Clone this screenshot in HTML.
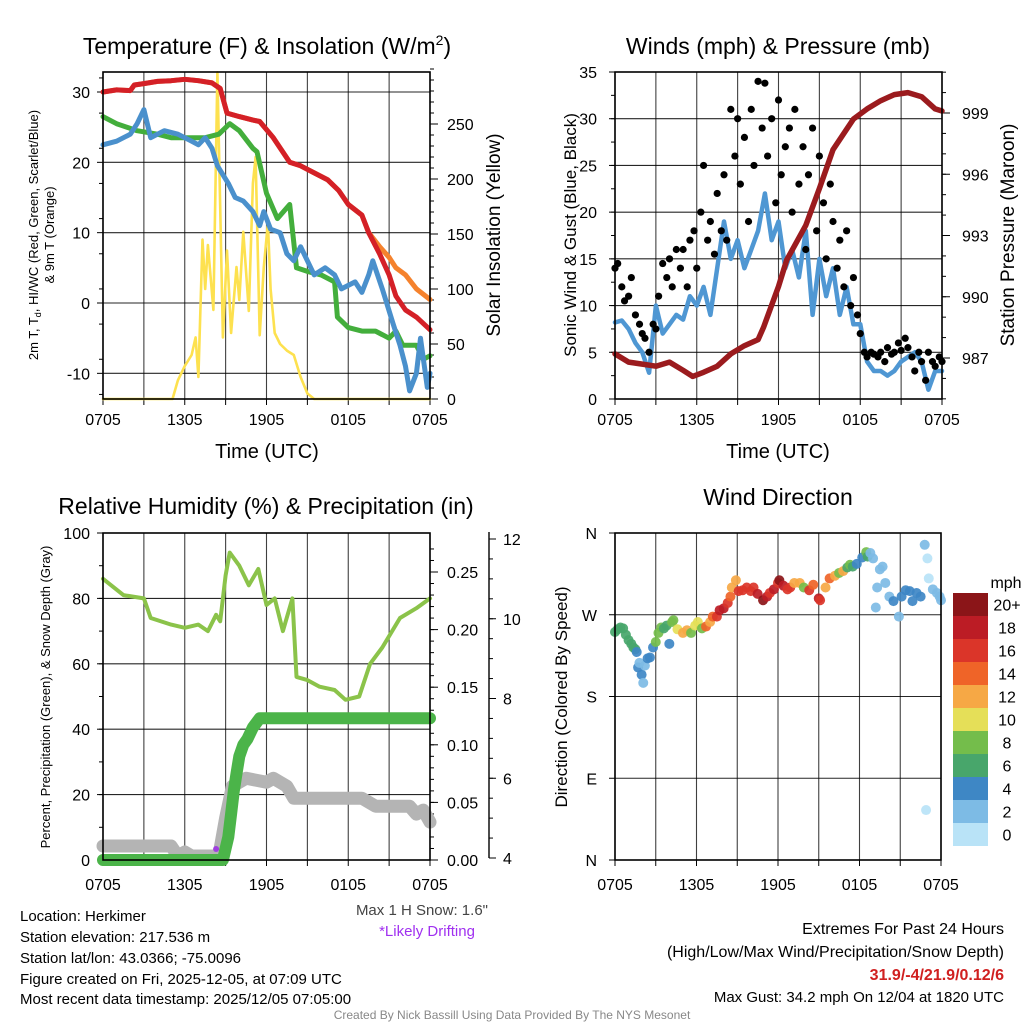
<!DOCTYPE html>
<html><head><meta charset="utf-8"><style>
html,body{margin:0;padding:0;background:#fff;}
svg{display:block;font-family:"Liberation Sans",sans-serif;}
</style></head><body>
<svg id="root" xmlns="http://www.w3.org/2000/svg" width="1024" height="1024" viewBox="0 0 1024 1024">
<rect x="0" y="0" width="1024" height="1024" fill="#fff"/>
<text x="267" y="54" font-size="23" text-anchor="middle">Temperature (F) &amp; Insolation (W/m<tspan dy="-9" font-size="14">2</tspan><tspan dy="9">)</tspan></text>
<text x="778" y="54" font-size="23" text-anchor="middle">Winds (mph) &amp; Pressure (mb)</text>
<text x="266" y="514" font-size="23" text-anchor="middle">Relative Humidity (%) &amp; Precipitation (in)</text>
<text x="778" y="505" font-size="23" text-anchor="middle">Wind Direction</text>
<text transform="translate(38,235) rotate(-90)" font-size="13" text-anchor="middle">2m T, T<tspan dy="3" font-size="9">d</tspan><tspan dy="-3">, HI/WC (Red, Green, Scarlet/Blue)</tspan></text>
<text transform="translate(54,235) rotate(-90)" font-size="13" text-anchor="middle">&amp; 9m T (Orange)</text>
<text transform="translate(500,235) rotate(-90)" font-size="19" text-anchor="middle">Solar Insolation (Yellow)</text>
<text transform="translate(576,235) rotate(-90)" font-size="17" text-anchor="middle">Sonic Wind &amp; Gust (Blue, Black)</text>
<text transform="translate(1014,235) rotate(-90)" font-size="19" text-anchor="middle">Station Pressure (Maroon)</text>
<text transform="translate(50,697) rotate(-90)" font-size="13" text-anchor="middle">Percent, Precipitation (Green), &amp; Snow Depth (Gray)</text>
<text transform="translate(567,697) rotate(-90)" font-size="17" text-anchor="middle">Direction (Colored By Speed)</text>
<text x="267" y="458" font-size="20" text-anchor="middle">Time (UTC)</text>
<text x="778" y="458" font-size="20" text-anchor="middle">Time (UTC)</text>
<g font-size="15">
<text x="20" y="921">Location: Herkimer</text>
<text x="20" y="942">Station elevation: 217.536 m</text>
<text x="20" y="963">Station lat/lon: 43.0366; -75.0096</text>
<text x="20" y="984">Figure created on Fri, 2025-12-05, at 07:09 UTC</text>
<text x="20" y="1004">Most recent data timestamp: 2025/12/05 07:05:00</text>
</g>
<text x="488" y="915" font-size="15" fill="#444" text-anchor="end">Max 1 H Snow: 1.6"</text>
<text x="427" y="936" font-size="15" fill="#a030f0" text-anchor="middle">*Likely Drifting</text>
<g font-size="16" text-anchor="end">
<text x="1004" y="934">Extremes For Past 24 Hours</text>
<text x="1004" y="957">(High/Low/Max Wind/Precipitation/Snow Depth)</text>
<text x="1004" y="980" fill="#d02020" font-weight="bold">31.9/-4/21.9/0.12/6</text>
<text x="1004" y="1002" font-size="15">Max Gust: 34.2 mph On 12/04 at 1820 UTC</text>
</g>
<text x="512" y="1019" font-size="12" fill="#888" text-anchor="middle">Created By Nick Bassill Using Data Provided By The NYS Mesonet</text>
</svg>
<script>
// ---------- data ----------
const timeLabels = ["0705","1305","1905","0105","0705"];
const tempTimes = [0,1,2,2.3,3,4,5,6,7,8,8.6,9.1,10,11,11.5,12.5,13.7,14.5,15.5,16.5,17.3,18,19,19.5,20.3,21,21.5,22.2,23,24];
const tempRed = [30,30.3,30.2,31,31.2,31.5,31.6,31.8,31.6,31.3,30.5,27,26.5,26,25.8,23.5,20,19.5,18.5,17.5,16,14,12.5,10,7,4,1,-1,-2,-3.8];
const tempOrange = [30,30.3,30.2,31,31.2,31.5,31.6,31.8,31.6,31.3,30.5,27,26.5,26,25.8,23.5,20,19.5,18.5,17.5,16,14,12.5,10,8,6.5,5,4,2,0.5];
const greenTimes = [0,1,2.5,4,5,6.5,7.5,8.5,9.3,10,11,11.3,12,12.8,13.7,14.2,15,16,17,17.2,18,19,20,21,21.5,22,23,23.5,24];
const tempGreen = [26.5,25.5,24.5,24,23.5,23.5,23.5,24,25.5,24.5,22,21.5,15.6,12,14,5,4.5,4,3,-2,-3.5,-4,-4,-5,-4,-6,-6,-8,-7.5];
const blueTimes = [0,1,2,2.5,3,3.5,4.5,5.5,6.5,7,7.5,8,8.4,9.2,9.7,10.3,11,11.5,11.8,12.3,13,13.5,14,14.5,15,15.5,16.3,17,17.5,18.5,19,19.5,19.8,20.5,21.3,21.8,22.2,22.5,23,23.3,23.8,24];
const tempBlue = [22.5,23,24,25.5,27.5,23.5,24.5,24,23,22.5,23.5,22,19.5,17,15,14.5,13,11,13,10.5,10,7,6,8,6,4,5,4,2,3,1.5,4,6,2,-3,-6,-9,-12.5,-10,-5,-12,-10];
const solarTimes = [0,5.1,5.5,6,6.5,6.8,7,7.3,7.5,7.7,8.1,8.4,8.8,9.1,9.4,9.8,10,10.3,10.7,11,11.2,11.5,11.8,12.1,12.3,12.6,13,13.5,14,14.5,15,15.5,24];
const solarVals = [0,0,17,30,40,56,20,145,100,140,81,297,56,135,60,120,90,152,80,196,220,58,120,160,100,60,50,44,40,20,5,0,0];
const tempTicks = [-10,0,10,20,30];
const solarTicks = [0,50,100,150,200,250];

const windVals = [8.2,8.4,7.5,6,5,2.8,10,7,8,9,8.5,11,10,12,9,14,19,15,17,14,16,18,22,17,19,14,16,13,18,9,15,11,14,9,12,8,8,4,3,3,2.5,3,4,4.5,5,4,1,3,3];
const gustTimes = [0,0.2,0.5,0.7,1,1.2,1.5,1.8,2,2.2,2.5,2.8,3,3.2,3.5,3.8,4,4.2,4.5,4.8,5,5.3,5.5,5.8,6,6.3,6.5,6.8,7,7.3,7.5,7.8,8,8.2,8.5,8.8,9,9.2,9.5,9.8,10,10.2,10.5,10.8,11,11.2,11.5,11.8,12,12.2,12.5,12.8,13,13.2,13.5,13.8,14,14.2,14.5,14.8,15,15.3,15.5,15.8,16,16.3,16.5,16.8,17,17.3,17.5,17.8,18,18.3,18.5,18.8,19,19.3,19.5,19.8,20,20.3,20.5,20.8,21,21.3,21.5,21.8,22,22.3,22.5,22.8,23,23.3,23.5,23.8,24];
const gustVals = [14,14.5,12,10.5,11,13,9,8,7,6.5, 5,8,7.5,11,14.5,13,15,12,16,14, 16,12,17,18,14,20,25,17,19,15.5, 22,18,24,17,31,26,30,23,28,19, 31,25,34,29,33.8,26,30,21,32,24, 27,29,20,31,23,27,16,24,29,18, 26,21,15,23,19,14,17,12,18,10, 13,9,7,5,4.5,5,4.8,4.5,5,4, 5.5,4.8,5,6,5.2,6.5,5.5,4.5,3,5, 4,2,5,4,3.5,4.5,4];
const pressTimes = [0,1,2,3,4,5,5.7,6.5,7.5,8.5,9.5,10.5,10.9,12,12.6,14,15,16,17.5,18.5,19.5,20.5,21.5,22.5,23.5,24];
const pressVals = [987.2,986.8,986.7,986.6,986.8,986.4,986.1,986.3,986.6,987.2,987.6,987.9,988.5,990.5,991.8,993.5,995.3,997.2,998.7,999.2,999.6,999.9,1000.0,999.8,999.2,999.1];
const windTicks = [0,5,10,15,20,25,30,35];
const pressTicks = [987,990,993,996,999];

const rhTimes = [0,1.5,3,3.5,5,6,7,7.7,8.3,8.6,9,9.3,10,10.7,11.4,12,12.6,13.2,13.9,14.2,15,15.9,17,17.8,18.8,19.6,20.5,21.8,23,24];
const rhVals = [86,81,80,74,72,71,72,70,75,73,87,94,90,84,89,78,80,70,80,56,55,53,52,49,50,60,65,74,77,80];
const precTimes = [0,3,6,8.8,9,9.2,9.4,9.6,9.8,10,10.3,10.6,11,11.5,24];
const precVals = [0,0,0,0,0.01,0.02,0.04,0.06,0.075,0.09,0.1,0.105,0.115,0.123,0.123];
const snowTimes = [0,5,5.5,6,6.5,8.5,9,9.5,10.5,12,12.5,13.5,14,19,20,22.5,23,23.5,24];
const snowVals = [4.3,4.3,4.05,4.15,4.05,4.05,5,5.8,6,5.9,6,5.8,5.5,5.5,5.3,5.3,5.1,5.2,4.9];
const rhTicks = [0,20,40,60,80,100];
const precTicks = [0,0.05,0.1,0.15,0.2,0.25];
const snowTicks = [4,6,8,10,12];

const dirTimes = [0,0.2,0.4,0.6,0.8,1,1.2,1.35,1.5,1.6,1.7,1.8,1.96,2.08,2.2,2.4,2.57,2.8,3,3.2,3.4,3.6,3.8,4,4.2,4.3,4.6,5,5.3,5.6,5.9,6.1,6.4,6.7,7,7.2,7.5,7.7,8,8.3,8.5,8.6,8.9,9.1,9.4,9.7,10,10.2,10.5,10.9,11.2,11.4,11.7,12,12.1,12.4,12.7,12.9,13.2,13.6,13.9,14.3,14.6,15,15.1,15.5,15.8,16.2,16.5,16.8,17.1,17.3,17.5,17.8,18.2,18.5,18.6,18.8,19,19.2,19.3,19.5,19.7,19.9,20.2,20.5,20.9,21.1,21.4,21.7,21.9,22.2,22.5,22.8,22.9,23,23.1,23.4,23.7,23.9,24];
const dirDeg = [251,254,256,255,248,242,238,234,232,229,212,217,204,195,214,222,223,234,240,250,256,255,258,238,262,264,254,250,253,250,258,262,255,257,262,268,268,275,277,283,290,300,308,296,297,300,296,300,293,286,290,294,298,305,308,302,298,300,305,305,300,297,303,288,286,300,310,313,316,318,322,325,323,326,333,339,334,338,332,278,300,320,323,305,290,285,268,290,297,296,285,294,290,347,55,332,310,298,294,290,286];
const dirSpeed = [7,7,7,7,7,7,7,6,7,4,4,3,4,2,2,5,4,4,9,9,8,7,7,5,9,9,10,12,12,9,10,10,9,14,12,14,17,18,18,17,15,13,12,16,16,17,17,16,19,20,19,17,18,16,20,19,17,16,13,12,9,16,14,18,17,12,14,12,9,12,7,8,6,5,4,8,7,2,2,2,2,2,2,3,3,4,3,4,4,4,5,4,4,3,1,1,1,2,3,2,3];
const dirTickLabels = ["N","E","S","W","N"];
const speedLabels = ["0","2","4","6","8","10","12","14","16","18","20+"];
const speedColors = ["#b9e3f7","#7dbbe5","#3e87c5","#48a66b","#74bd4b","#e5df58","#f6a845","#ef6428","#db3529","#bc1c25","#8b1518"];

// ---------- helpers ----------
const NS = "http://www.w3.org/2000/svg";
const root = document.getElementById("root");
function mk(tag, attrs, name, parent) {
  const el = document.createElementNS(NS, tag);
  for (const k in attrs) el.setAttribute(k, attrs[k]);
  
  
  (parent || root).appendChild(el);
  return el;
}
function lin(d0, d1, p0, p1) { return v => p0 + (v - d0) * (p1 - p0) / (d1 - d0); }
function txt(x, y, s, size, anchor, name, extra) {
  const a = Object.assign({x: x, y: y, "font-size": size, "text-anchor": anchor}, extra || {});
  const t = mk("text", a, name);
  t.textContent = s;
  return t;
}
function polyline(ts, vs, xf, yf, color, w, name) {
  const pts = ts.map((t, i) => xf(t).toFixed(1) + "," + yf(vs[i]).toFixed(1)).join(" ");
  return mk("polyline", {points: pts, fill: "none", stroke: color, "stroke-width": w, "stroke-linejoin": "round", "stroke-linecap": "round"}, name);
}
function frame(x0, y0, x1, y1, name) {
  mk("rect", {x: x0, y: y0, width: x1 - x0, height: y1 - y0, fill: "none", stroke: "#000", "stroke-width": 1.6}, name);
}
function hgrid(x0, x1, y, name) { mk("line", {x1: x0, x2: x1, y1: y, y2: y, stroke: "#000", "stroke-width": 1.1, "stroke-opacity": 0.85}, name); }
function vgrid(x, y0, y1, name) { mk("line", {x1: x, x2: x, y1: y0, y2: y1, stroke: "#000", "stroke-width": 1.1, "stroke-opacity": 0.75}, name); }
function tick(x1, y1, x2, y2, name) { mk("line", {x1: x1, y1: y1, x2: x2, y2: y2, stroke: "#000", "stroke-width": 1}, name); }
function timeAxis(xf, y0, y1, labY, prefix) {
  for (let h = 0; h <= 24; h += 3) {
    vgrid(xf(h), y0, y1, prefix + "-vgrid");
    tick(xf(h), y1, xf(h), y1 + 6, prefix + "-x-tick");
  }
  timeLabels.forEach((l, i) => txt(xf(i * 6), labY, l, 16, "middle", prefix + "-x-label"));
}

// ---------- Panel 1 ----------
const x1 = lin(0, 24, 103, 430), yT = lin(0, 30, 303, 92), yS = lin(0, 250, 399, 124);
tempTicks.forEach(v => { hgrid(103, 430, yT(v), "temp-hgrid"); tick(97, yT(v), 103, yT(v), "temp-y-tick"); txt(90, yT(v) + 6, String(v), 16, "end", "temp-y-label"); });
for (let v = -13; v <= 33; v += 5) tick(99, yT(v), 103, yT(v), "temp-minor-tick");
solarTicks.forEach(v => { tick(430, yS(v), 438, yS(v), "solar-y-tick"); txt(447, yS(v) + 6, String(v), 16, "start", "solar-y-label"); });
for (let v = 0; v <= 300; v += 10) tick(430, yS(v), 434, yS(v), "solar-minor-tick");
timeAxis(x1, 72, 399, 425, "temp");
polyline(solarTimes, solarVals, x1, yS, "#fde14f", 2.6, "solar-line");
polyline(tempTimes, tempOrange, x1, yT, "#f5822d", 5, "temp-9m-orange-line");
polyline(tempTimes, tempRed, x1, yT, "#d42027", 5, "temp-2m-red-line");
polyline(greenTimes, tempGreen, x1, yT, "#43ae3c", 5, "windchill-green-line");
polyline(blueTimes, tempBlue, x1, yT, "#4a90cc", 5, "dewpoint-blue-line");
frame(103, 72, 430, 399, "temp-plot-frame");

// ---------- Panel 2 ----------
const x2 = lin(0, 24, 615, 942), yW = lin(0, 35, 399, 72), yP = lin(987, 999, 358, 113);
windTicks.forEach(v => { hgrid(615, 942, yW(v), "wind-hgrid"); tick(609, yW(v), 615, yW(v), "wind-y-tick"); txt(597, yW(v) + 6, String(v), 16, "end", "wind-y-label"); });
for (let v = 0; v <= 35; v += 2.5) tick(611, yW(v), 615, yW(v), "wind-minor-tick");
pressTicks.forEach(v => { tick(942, yP(v), 950, yP(v), "pressure-y-tick"); txt(962, yP(v) + 6, String(v), 16, "start", "pressure-y-label"); });
for (let v = 985; v <= 1001; v += 1) tick(942, yP(v), 946, yP(v), "pressure-minor-tick");
timeAxis(x2, 72, 399, 425, "wind");
const windTimes = windVals.map((v, i) => i * 24 / (windVals.length - 1));
polyline(windTimes, windVals, x2, yW, "#4f97d3", 4.5, "sonic-wind-line");
gustTimes.forEach((t, i) => {
  const c = mk("circle", {cx: x2(t), cy: yW(gustVals[i]), r: 3.6, fill: "#000"}, "gust-dot");
});
polyline(pressTimes, pressVals, x2, yP, "#9b1b1e", 5.5, "pressure-line");
frame(615, 72, 942, 399, "wind-plot-frame");

// ---------- Panel 3 ----------
const x3 = lin(0, 24, 103, 430), yR = lin(0, 100, 860, 533), yPr = lin(0, 0.25, 860, 572), ySn = lin(4, 12, 858, 539);
rhTicks.forEach(v => { hgrid(103, 430, yR(v), "rh-hgrid"); tick(97, yR(v), 103, yR(v), "rh-y-tick"); txt(90, yR(v) + 6, String(v), 16, "end", "rh-y-label"); });
for (let v = 0; v <= 100; v += 10) tick(99, yR(v), 103, yR(v), "rh-minor-tick");
precTicks.forEach(v => { tick(430, yPr(v), 438, yPr(v), "precip-y-tick"); txt(447, yPr(v) + 6, v.toFixed(2), 16, "start", "precip-y-label"); });
for (let v = 0; v <= 0.28; v += 0.01) tick(430, yPr(v), 434, yPr(v), "precip-minor-tick");
mk("line", {x1: 489, x2: 489, y1: 532, y2: 858, stroke: "#000", "stroke-width": 1.4}, "snow-axis-line");
snowTicks.forEach(v => { tick(489, ySn(v), 496, ySn(v), "snow-y-tick"); txt(503, ySn(v) + 6, String(v), 16, "start", "snow-y-label"); });
for (let v = 4; v <= 12; v += 0.5) tick(489, ySn(v), 493, ySn(v), "snow-minor-tick");
timeAxis(x3, 533, 860, 890, "rh");
polyline(snowTimes, snowVals, x3, ySn, "#b4b4b4", 13, "snow-depth-line");
polyline(precTimes, precVals, x3, yPr, "#4bb449", 12, "precip-line");
mk("circle", {cx: x3(8.3), cy: 849, r: 3, fill: "#a040e0"}, "drifting-marker");
polyline(rhTimes, rhVals, x3, yR, "#8bc34a", 4, "rh-line");
frame(103, 533, 430, 860, "rh-plot-frame");

// ---------- Panel 4 ----------
const x4 = lin(0, 24, 615, 941), yD = lin(0, 360, 860, 533);
dirTickLabels.forEach((l, i) => { hgrid(615, 941, yD(i * 90), "dir-hgrid"); tick(609, yD(i * 90), 615, yD(i * 90), "dir-y-tick"); txt(597, yD(i * 90) + 6, l, 16, "end", "dir-y-label"); });
timeAxis(x4, 533, 860, 890, "dir");
dirTimes.forEach((t, i) => {
  const bin = Math.min(10, Math.floor(dirSpeed[i] / 2));
  mk("circle", {cx: x4(t), cy: yD(dirDeg[i]), r: 5, fill: speedColors[bin], "fill-opacity": 0.92}, "dir-dot");
});
frame(615, 533, 941, 860, "dir-plot-frame");
// colorbar
txt(1006, 588, "mph", 16, "middle", "colorbar-title");
const cbTop = 593, cbH = 23;
for (let i = 10; i >= 0; i--) {
  const row = 10 - i;
  mk("rect", {x: 953, y: cbTop + row * cbH, width: 35, height: cbH, fill: speedColors[i]}, "colorbar-box");
  txt(1007, cbTop + row * cbH + cbH / 2 + 6, speedLabels[i], 16, "middle", "colorbar-label");
}
</script>
</body></html>
